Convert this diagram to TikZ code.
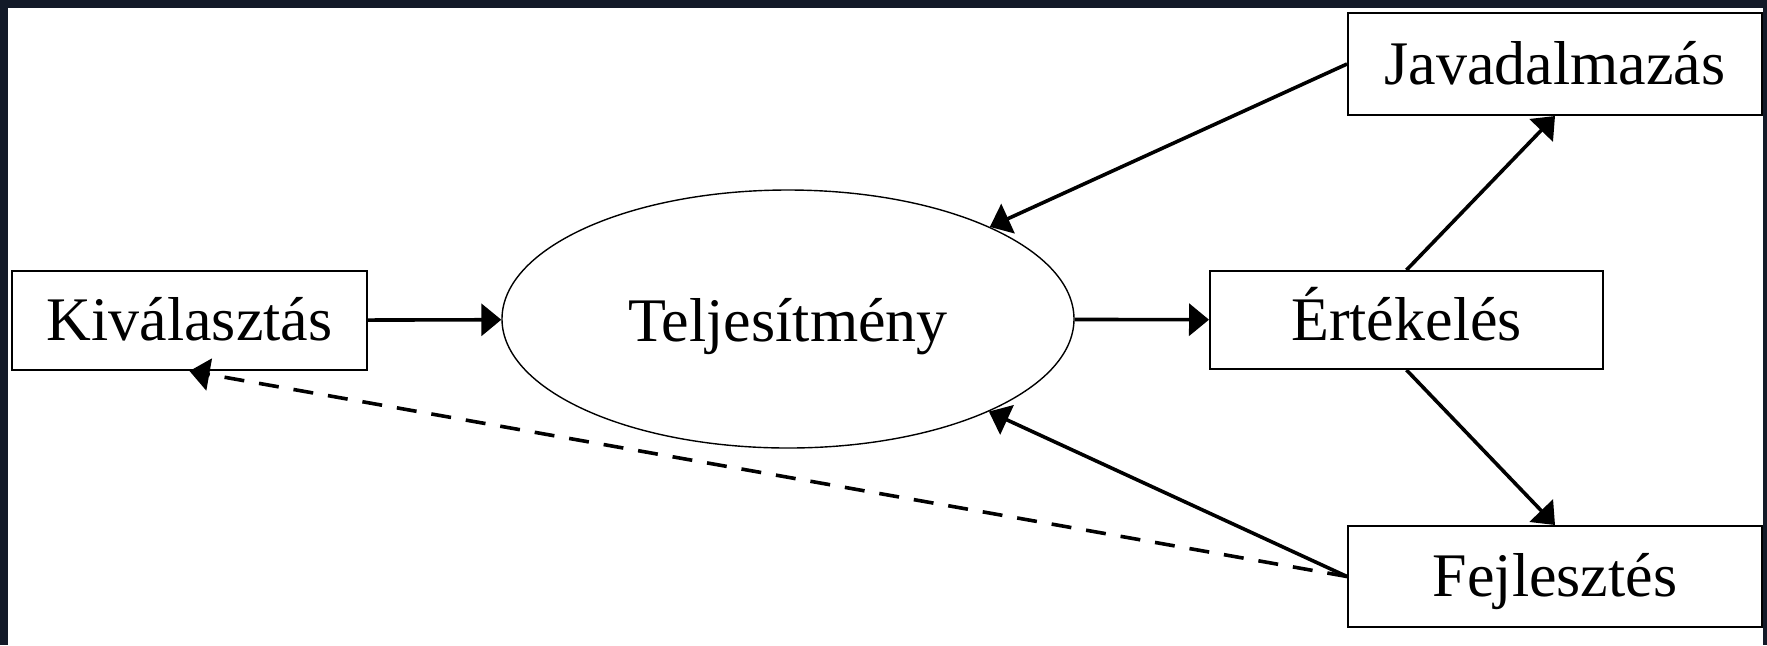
\documentclass[tikz,border=0pt]{standalone}
\usepackage{fontspec}
\setmainfont{Liberation Serif}
\usepackage{tikz}
\usetikzlibrary{arrows.meta,shapes.geometric}
\definecolor{framecol}{RGB}{19,26,40}

\begin{document}
\begin{tikzpicture}[x=0.5pt, y=-0.5pt,
		box/.style={draw, line width=1pt, inner sep=0pt, text height=20pt, text depth=0pt, font=\fontsize{31}{37}\selectfont},
		arr/.style={line width=1.8pt, -{Triangle[length=10pt, width=16pt]}}]
				\fill[framecol] (0,0) rectangle (1767,645);
				\fill[white] (8,8) rectangle (1763,645);
				\useasboundingbox (0,0) rectangle (1767,645);
				\node[box, minimum width=177.5pt, minimum height=49.5pt] (kiv) at (189.5,320.5) {Kiválasztás};
				\node[box, ellipse, line width=0.7pt, text height=22pt, minimum width=286pt, minimum height=129pt] (telj) at (788,319) {Teljesítmény};
				\node[box, minimum width=196.5pt, minimum height=49pt] (ert) at (1406.5,320) {Értékelés};
				\node[box, minimum width=207pt, minimum height=51pt] (jav) at (1555,64) {Javadalmazás};
				\node[box, minimum width=207pt, minimum height=50.5pt] (fejl) at (1555,576.5) {Fejlesztés};
				\draw[arr] (kiv) -- (telj);
				\draw[arr] (telj) -- (ert);
				\draw[arr] (ert.north) -- (jav.south);
				\draw[arr] (ert.south) -- (fejl.north);
				\draw[arr] (jav.west) -- (telj);
				\draw[arr] (fejl.west) -- (telj);
				\draw[arr, dash pattern=on 10pt off 7.5pt] (fejl.west) -- (kiv.south);
			\end{tikzpicture}
\end{document}
